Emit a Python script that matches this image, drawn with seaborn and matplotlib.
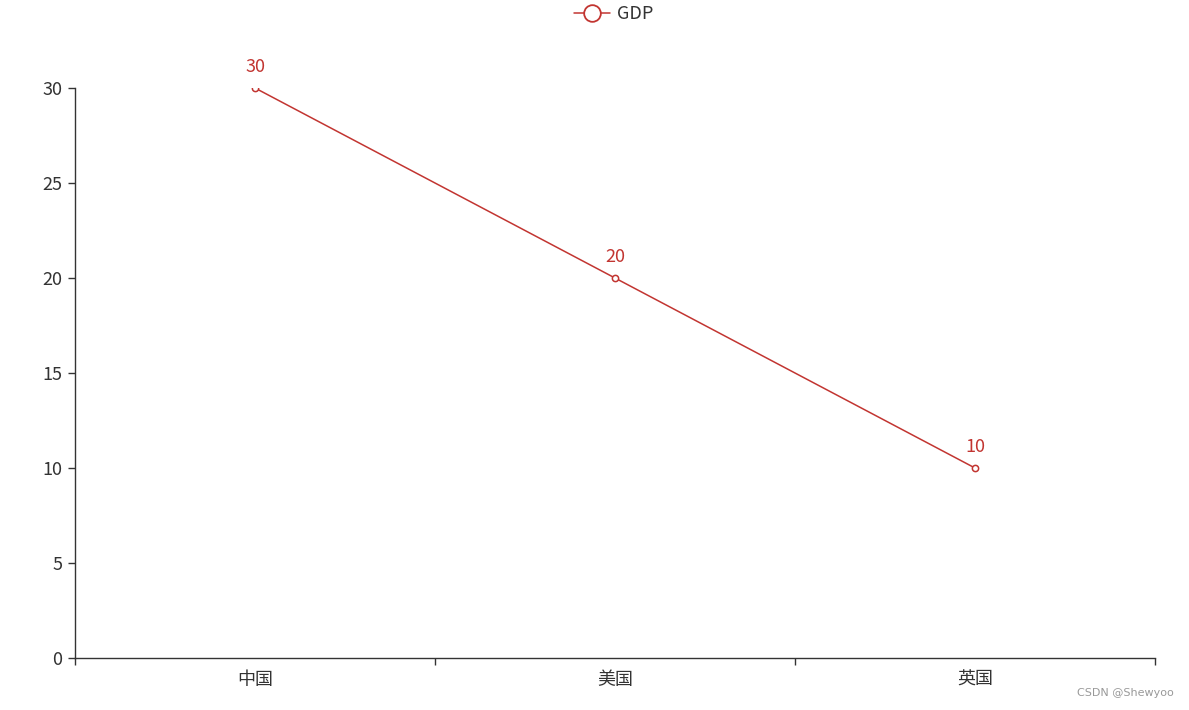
import matplotlib
matplotlib.use("Agg")
import matplotlib.pyplot as plt
import seaborn as sns
import pandas as pd
from matplotlib.lines import Line2D

categories = ["中国", "美国", "英国"]
gdp_values = [30, 20, 10]
y_ticks = [0, 5, 10, 15, 20, 25, 30]
series_name = "GDP"

sns.set_theme(style="white")
plt.rcParams['font.family'] = ['Noto Sans CJK SC', 'DejaVu Sans']

RED = "#c23531"
AXIS = "#333333"

df = pd.DataFrame({"country": categories, "gdp": gdp_values})
df["pos"] = range(len(categories))

fig = plt.figure(figsize=(11.89, 7.10), dpi=100)
ax = fig.add_axes([75/1189, 52/710, 1080/1189, 570/710])

sns.lineplot(data=df, x="pos", y="gdp", ax=ax, color=RED, linewidth=1.1,
             marker="o", markersize=4.5, markerfacecolor="white",
             markeredgecolor=RED, markeredgewidth=1.1)

for x, y in zip(df["pos"], df["gdp"]):
    ax.annotate(str(y), (x, y), xytext=(0, 9), textcoords="offset points",
                ha="center", va="bottom", color=RED, fontsize=13)

ax.set_xlim(-0.5, len(categories) - 0.5)
ax.set_ylim(0, 30)
ax.set_yticks(y_ticks)
ax.set_yticklabels([str(t) for t in y_ticks])
ax.set_xticks([i - 0.5 for i in range(len(categories) + 1)])
ax.set_xticklabels([])
ax.set_xticks(list(range(len(categories))), minor=True)
ax.set_xticklabels(categories, minor=True)
ax.tick_params(axis="x", which="minor", bottom=False, length=0, pad=9, labelsize=13, labelcolor=AXIS)
ax.tick_params(axis="x", which="major", bottom=True, length=5, width=1, color=AXIS, direction="out")
ax.tick_params(axis="y", left=True, length=5, width=1, color=AXIS, direction="out", pad=4,
               labelsize=13, labelcolor=AXIS)
ax.set_xlabel("")
ax.set_ylabel("")
for s in ["top", "right"]:
    ax.spines[s].set_visible(False)
for s in ["left", "bottom"]:
    ax.spines[s].set_color(AXIS)
    ax.spines[s].set_linewidth(1)
ax.grid(False)

handle = Line2D([], [], color=RED, linewidth=1.1, marker="o", markersize=12,
                markerfacecolor="white", markeredgecolor=RED, markeredgewidth=1.3)
fig.legend([handle], [series_name], loc="center", bbox_to_anchor=(614/1189, 1 - 14/710),
           frameon=False, fontsize=13, handlelength=2.0, handletextpad=0.4,
           labelcolor=AXIS)

fig.text(1174/1189, 1 - 693/710, "CSDN @Shewyoo", ha="right", va="center",
         fontsize=8, color="#999999", family=["DejaVu Sans"])

fig.savefig("out.png", dpi=100)
